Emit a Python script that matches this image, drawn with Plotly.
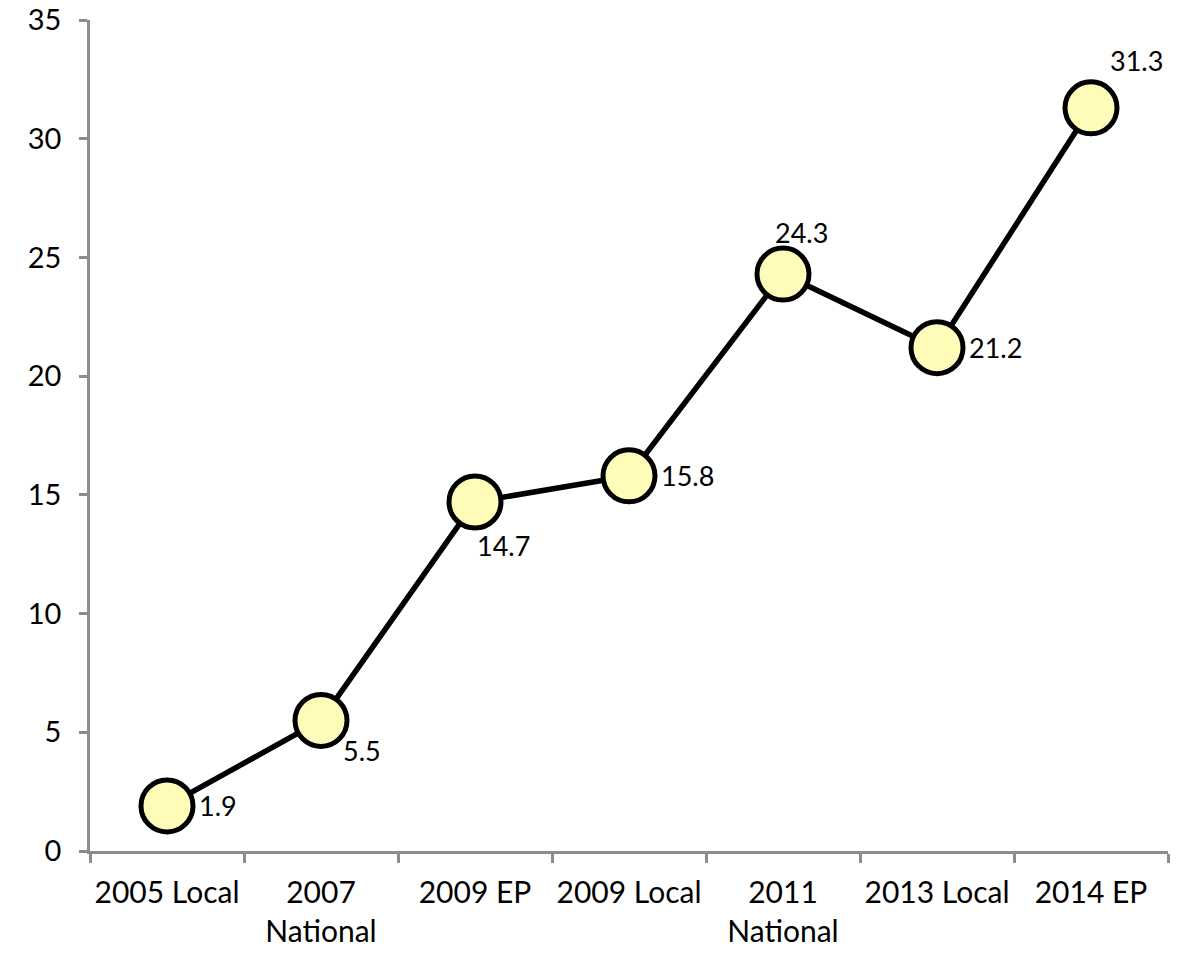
import plotly.graph_objects as go

elections = ["2005 Local", "2007<br>National", "2009 EP", "2009 Local",
             "2011<br>National", "2013 Local", "2014 EP"]
vote_share = [1.9, 5.5, 14.7, 15.8, 24.3, 21.2, 31.3]

# value label placement around each marker: (xanchor, xshift, yshift)
label_offsets = [("left", 30, 0), ("left", 20, -30), ("left", 0, -44),
                 ("left", 30, 0), ("center", 18, 42), ("left", 30, 0),
                 ("left", 17, 47)]

FONT = "Lato, 'Open Sans', sans-serif"

fig = go.Figure()
fig.add_trace(go.Scatter(
    x=elections,
    y=vote_share,
    mode="lines+markers",
    line=dict(color="black", width=5.5),
    marker=dict(size=52, color="#FFFBB9", line=dict(color="black", width=5)),
    cliponaxis=False,
    showlegend=False,
))

for cat, val, (anchor, dx, dy) in zip(elections, vote_share, label_offsets):
    fig.add_annotation(
        x=cat, y=val, text=f"{val:.1f}", showarrow=False,
        xanchor=anchor, yanchor="middle", xshift=dx, yshift=dy,
        font=dict(family=FONT, size=27, color="black"),
    )

fig.update_layout(
    width=1190,
    height=953,
    margin=dict(l=90, r=22, t=20, b=102),
    paper_bgcolor="white",
    plot_bgcolor="white",
    font=dict(family=FONT, size=30, color="black"),
    xaxis=dict(
        type="category",
        range=[-0.5, 6.5],
        automargin=False,
        tickangle=0,
        showline=True, linecolor="#8c8c8c", linewidth=2.5,
        ticks="outside", tickson="boundaries", ticklen=9,
        tickcolor="#8c8c8c", tickwidth=2.5,
        showgrid=False, zeroline=False,
        ticklabelstandoff=13,
        tickfont=dict(family=FONT, size=30),
    ),
    yaxis=dict(
        range=[0, 35], dtick=5,
        automargin=False,
        showline=True, linecolor="#8c8c8c", linewidth=2.5,
        ticks="outside", ticklen=8, tickcolor="#8c8c8c", tickwidth=2.5,
        showgrid=False, zeroline=False,
        ticklabelstandoff=12,
        tickfont=dict(family=FONT, size=29),
    ),
)

fig.write_html("out.html")
